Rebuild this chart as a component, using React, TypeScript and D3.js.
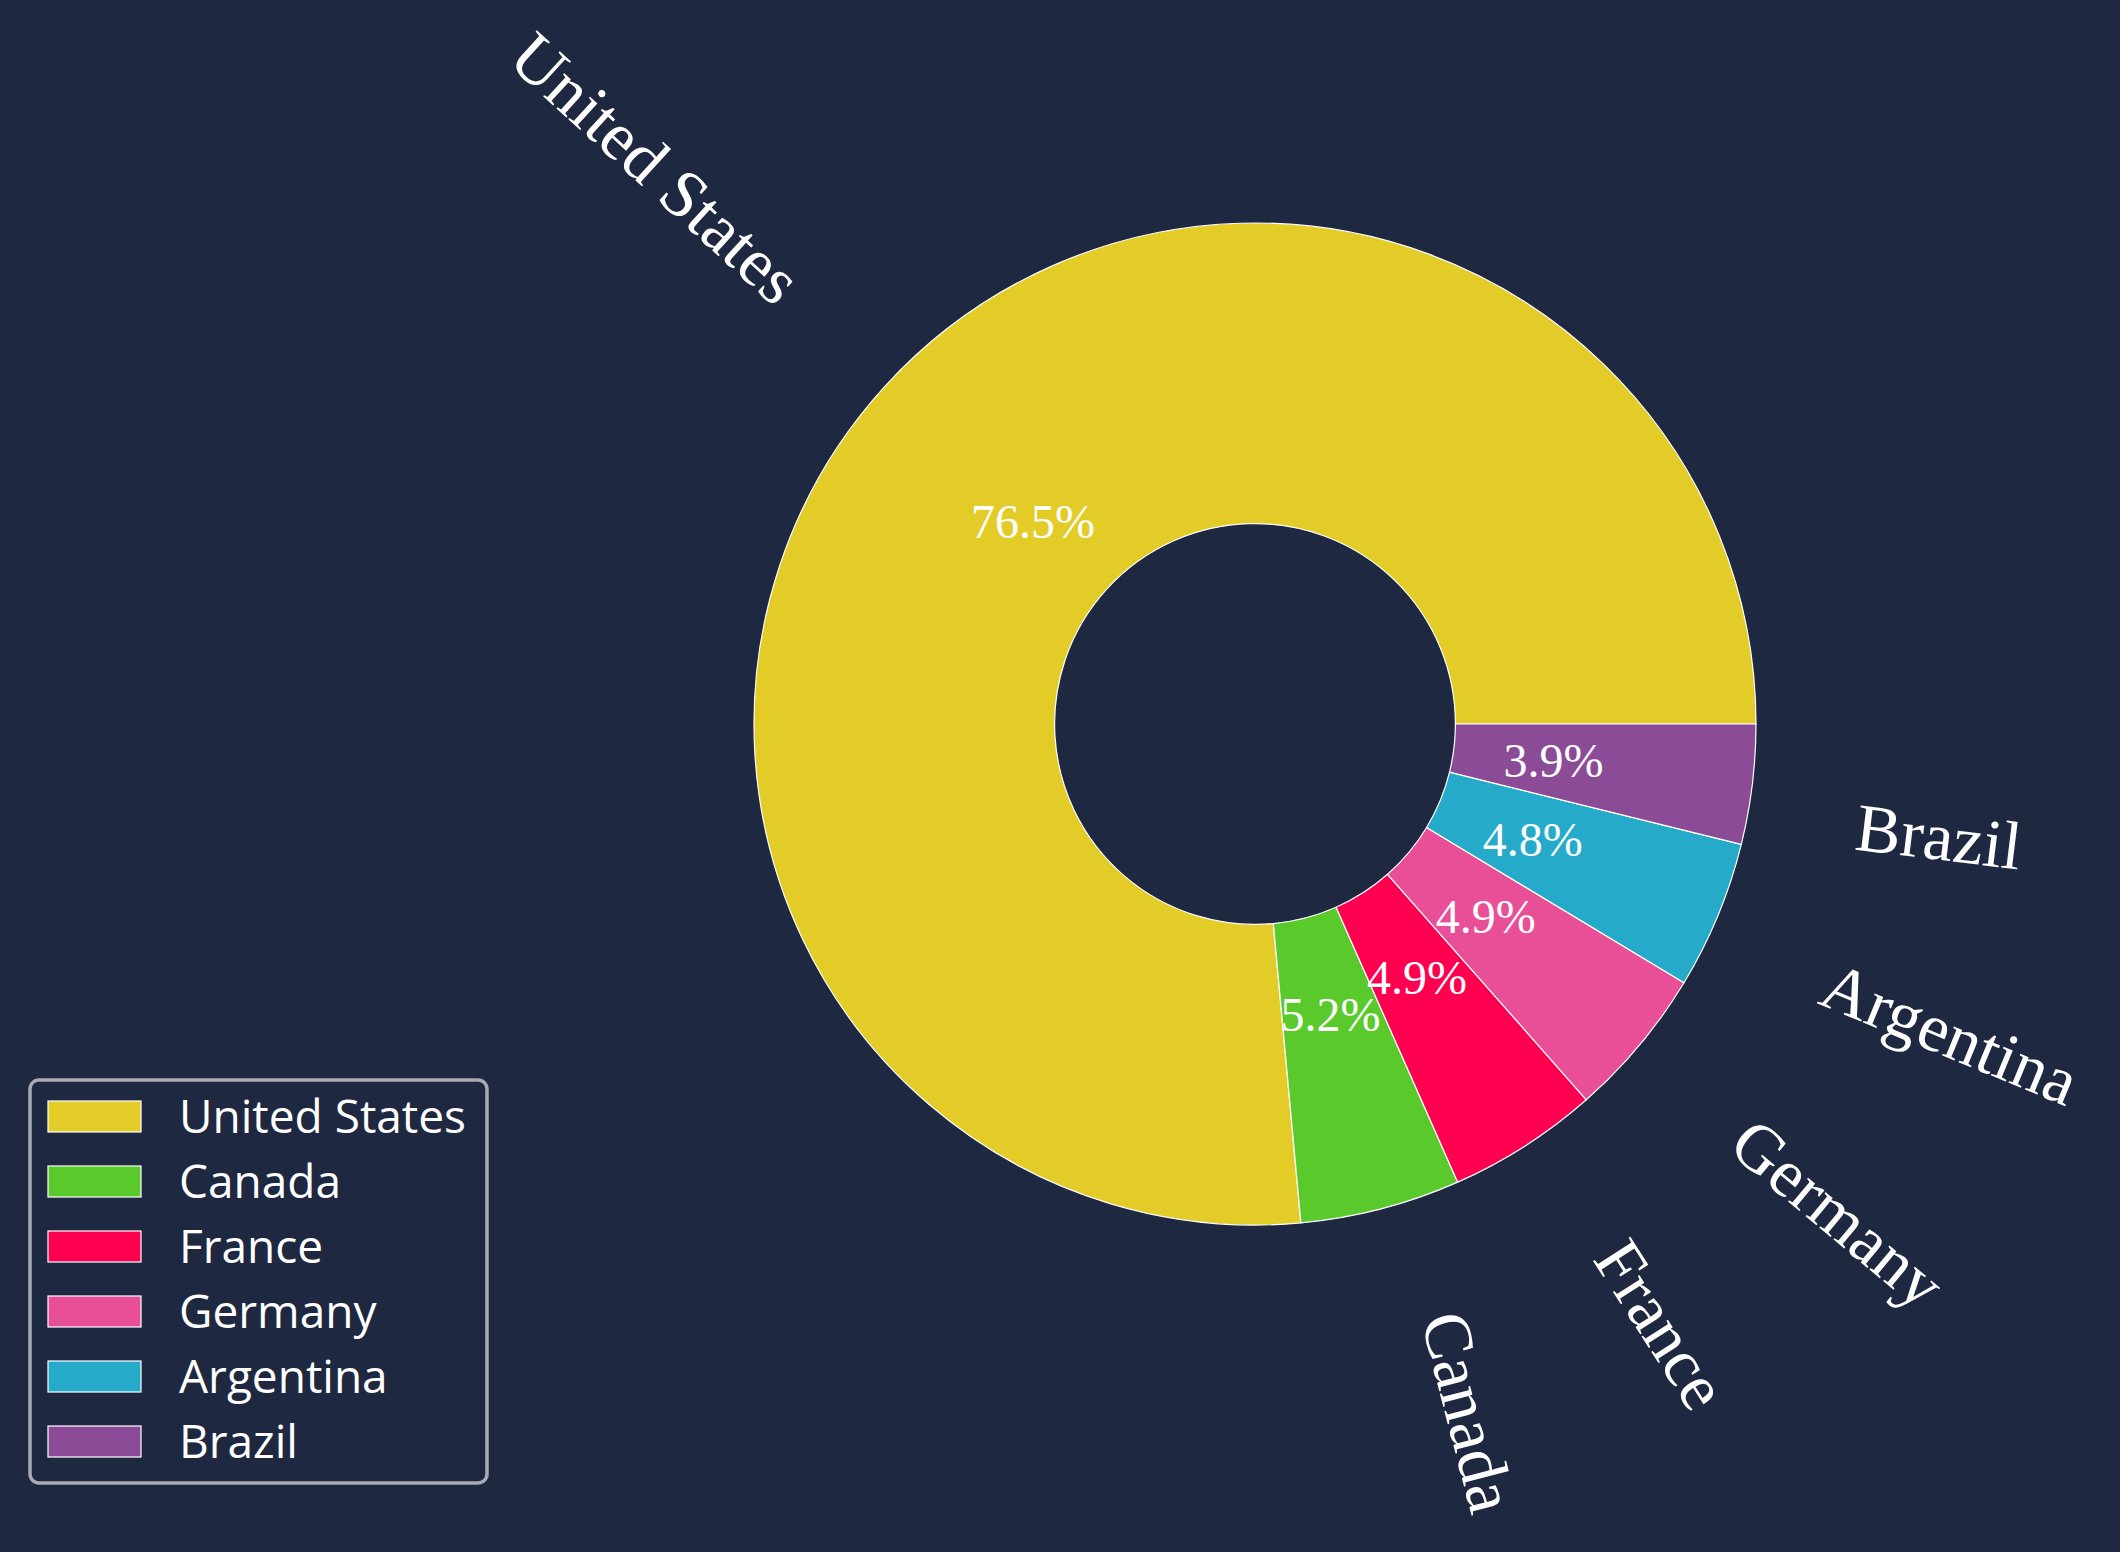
import React, { useEffect, useMemo } from 'react';
import * as d3 from 'd3';

const W = 2120;
const H = 1552;

const categories = ['United States', 'Canada', 'France', 'Germany', 'Argentina', 'Brazil'];
const values = [76.46, 5.17, 4.87, 4.86, 4.78, 3.86];
const colors = ['#e3cc28', '#5ac92b', '#ff0050', '#e94f96', '#25abc9', '#8c4b97'];

const BG = '#1f2841';
const CX = 1255;
const CY = 724;
const R = 501;
const INNER_FRAC = 0.4;
const PCT_DIST = 0.6;
const LABEL_DIST = 1.2;
const LABEL_SIZE = 68;
const PCT_SIZE = 48;
const LEGEND_SIZE = 46;
const SERIF = '"Liberation Serif", "Times New Roman", serif';
const SANS = '"Open Sans", Lato, sans-serif';

let ctx: CanvasRenderingContext2D | null = null;
function measure(text: string, font: string): number {
  if (!ctx) ctx = document.createElement('canvas').getContext('2d');
  if (!ctx) return text.length * 30;
  ctx.font = font;
  return ctx.measureText(text).width;
}

export default function App() {
  useEffect(() => {
    document.body.style.margin = '0';
    document.body.style.overflow = 'hidden';
    document.body.style.background = BG;
  }, []);

  const total = d3.sum(values);
  const pie = d3
    .pie<number>()
    .sort(null)
    .startAngle(Math.PI / 2)
    .endAngle(Math.PI / 2 - 2 * Math.PI);
  const arcs = pie(values);
  const arcGen = d3.arc<d3.PieArcDatum<number>>().innerRadius(R * INNER_FRAC).outerRadius(R);

  const legendY = d3.scaleLinear().domain([0, categories.length - 1]).range([1101, 1426]);

  const labels = useMemo(() => {
    return arcs.map((a, i) => {
      const mid = (a.startAngle + a.endAngle) / 2;
      const theta = Math.PI / 2 - mid; // math angle, ccw from east
      const xt = Math.cos(theta) * R * LABEL_DIST;
      const yt = Math.sin(theta) * R * LABEL_DIST;
      let rotDeg = (theta * 180) / Math.PI;
      rotDeg = ((rotDeg % 360) + 360) % 360;
      if (xt < 0) rotDeg += 180;
      const rr = (rotDeg * Math.PI) / 180;
      const w = measure(categories[i], `${LABEL_SIZE}px ${SERIF}`);
      const h = LABEL_SIZE * 1.0;
      const BW = Math.abs(w * Math.cos(rr)) + Math.abs(h * Math.sin(rr));
      const BH = Math.abs(w * Math.sin(rr)) + Math.abs(h * Math.cos(rr));
      const ax = CX + xt;
      const ay = CY - yt;
      const cx = xt > 0 ? ax + BW / 2 : ax - BW / 2;
      const cy = yt > 0 ? ay - BH / 2 : ay + BH / 2;
      const px = CX + Math.cos(theta) * R * PCT_DIST;
      const py = CY - Math.sin(theta) * R * PCT_DIST;
      return { cx, cy, rot: -rotDeg, px, py, pct: ((values[i] / total) * 100).toFixed(1) + '%' };
    });
  }, []);

  return (
    <svg
      width={W}
      height={H}
      style={{ position: 'absolute', left: 0, top: 0, display: 'block', background: BG }}
    >
      <rect x={0} y={0} width={W} height={H} fill={BG} />
      <g transform={`translate(${CX},${CY})`}>
        {arcs.map((a, i) => (
          <path key={i} d={arcGen(a) || ''} fill={colors[i]} stroke="#ffffff" strokeWidth={1.2} strokeLinejoin="round" />
        ))}
      </g>
      {labels.map((l, i) => (
        <text
          key={'p' + i}
          x={l.px}
          y={l.py}
          textAnchor="middle"
          dominantBaseline="central"
          fontFamily={SERIF}
          fontSize={PCT_SIZE}
          fill="#ffffff"
        >
          {l.pct}
        </text>
      ))}
      {labels.map((l, i) => (
        <g key={'l' + i} transform={`translate(${l.cx},${l.cy}) rotate(${l.rot})`}>
          <text x={0} y={LABEL_SIZE * 0.28} textAnchor="middle" fontFamily={SERIF} fontSize={LABEL_SIZE} fill="#ffffff">
            {categories[i]}
          </text>
        </g>
      ))}
      <g>
        <rect x={30} y={1080} width={457} height={403} rx={9} ry={9} fill={BG} stroke="#a9abb3" strokeWidth={3.5} />
        {categories.map((c, i) => (
          <g key={'lg' + i}>
            <rect x={48} y={legendY(i)} width={93} height={31} fill={colors[i]} stroke="#ffffff" strokeWidth={1.2} />
            <text x={179} y={legendY(i) + 15.5 + 16.5} fontFamily={SANS} fontSize={LEGEND_SIZE} fill="#ffffff">
              {c}
            </text>
          </g>
        ))}
      </g>
    </svg>
  );
}
